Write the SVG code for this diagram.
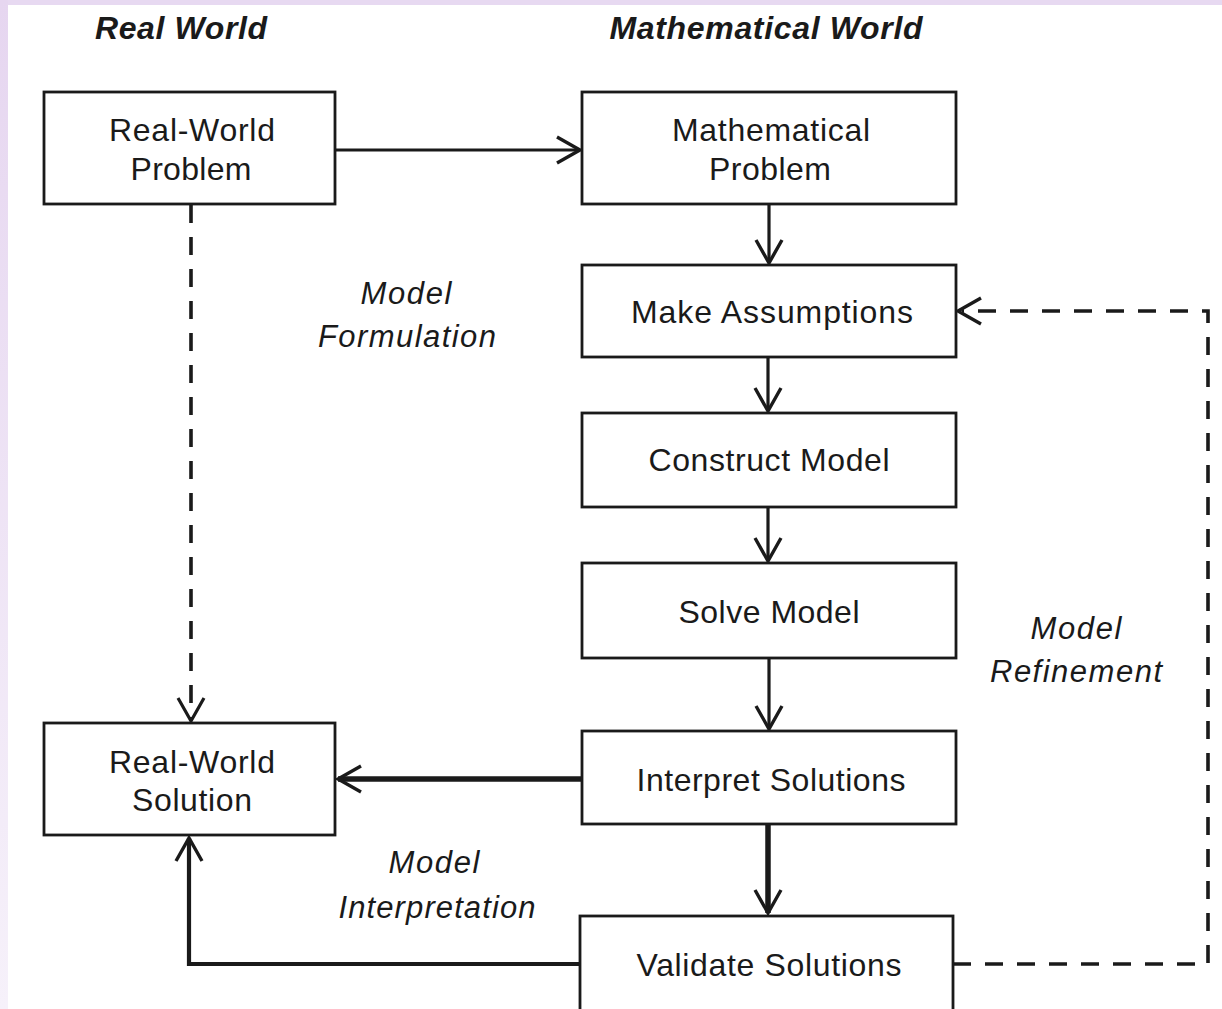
<svg xmlns="http://www.w3.org/2000/svg" width="1222" height="1009" viewBox="0 0 1222 1009">
  <defs>
    <linearGradient id="side" x1="0" y1="0" x2="0" y2="1">
      <stop offset="0" stop-color="#e6d6f0"/>
      <stop offset="1" stop-color="#f6f1fa"/>
    </linearGradient>
    <marker id="arr" markerUnits="userSpaceOnUse" viewBox="-26 -15 30 30" markerWidth="30" markerHeight="30" refX="0" refY="0" orient="auto">
      <path d="M-23,-13 L0,0 L-23,13" fill="none" stroke="#1a1a1a" stroke-width="3.4"/>
    </marker>
    <style>
      .box { fill: #ffffff; stroke: #1a1a1a; stroke-width: 2.8; }
      .t { font-family: "Liberation Sans", Arial, sans-serif; font-size: 32px; fill: #1a1a1a; text-anchor: middle; }
      .it { font-family: "Liberation Sans", Arial, sans-serif; font-size: 31px; font-style: italic; fill: #1a1a1a; text-anchor: middle; }
      .hd { font-family: "Liberation Sans", Arial, sans-serif; font-size: 32px; font-style: italic; font-weight: bold; fill: #1a1a1a; text-anchor: middle; }
      .ln { fill: none; stroke: #1a1a1a; stroke-width: 3.2; }
      .thick { fill: none; stroke: #1a1a1a; stroke-width: 5.5; }
      .mid { fill: none; stroke: #1a1a1a; stroke-width: 4.2; }
      .dash { fill: none; stroke: #1a1a1a; stroke-width: 3.6; stroke-dasharray: 18 14; }
    </style>
  </defs>

  <rect x="0" y="0" width="1222" height="1009" fill="#ffffff"/>
  <rect x="0" y="0" width="1222" height="5" fill="#e7d9f1"/>
  <rect x="0" y="0" width="8" height="1009" fill="url(#side)"/>

  <g id="headers">
    <text class="hd" x="181" y="39" textLength="172" lengthAdjust="spacing">Real World</text>
    <text class="hd" x="766" y="39" textLength="313" lengthAdjust="spacing">Mathematical World</text>
  </g>

  <g id="connectors">
    <line class="ln" x1="335" y1="150" x2="580" y2="150" marker-end="url(#arr)"/>
    <line class="ln" x1="769" y1="204" x2="769" y2="263" marker-end="url(#arr)"/>
    <line class="ln" x1="768" y1="357" x2="768" y2="411" marker-end="url(#arr)"/>
    <line class="ln" x1="768" y1="507" x2="768" y2="561" marker-end="url(#arr)"/>
    <line class="ln" x1="769" y1="658" x2="769" y2="729" marker-end="url(#arr)"/>
    <line class="thick" x1="768" y1="824" x2="768" y2="913" marker-end="url(#arr)"/>
    <line class="thick" x1="582" y1="779" x2="338" y2="779" marker-end="url(#arr)"/>
    <path class="mid" d="M580,964 H189 V838" marker-end="url(#arr)"/>
    <path class="dash" d="M191,205 V719"/>
    <path d="M178,698 L191,721 L204,698" fill="none" stroke="#1a1a1a" stroke-width="3.2"/>
    <path class="dash" d="M953,964 H1208 V311 H962"/>
    <path d="M981,298 L958,311 L981,324" fill="none" stroke="#1a1a1a" stroke-width="3.4"/>
  </g>

  <g id="node-real-world-problem">
    <rect class="box" x="44" y="92" width="291" height="112"/>
    <text class="t" x="192" y="141" textLength="166" lengthAdjust="spacing">Real-World</text>
    <text class="t" x="191" y="180" textLength="121" lengthAdjust="spacing">Problem</text>
  </g>
  <g id="node-mathematical-problem">
    <rect class="box" x="582" y="92" width="374" height="112"/>
    <text class="t" x="771" y="141" textLength="198" lengthAdjust="spacing">Mathematical</text>
    <text class="t" x="770" y="180" textLength="122" lengthAdjust="spacing">Problem</text>
  </g>
  <g id="node-make-assumptions">
    <rect class="box" x="582" y="265" width="374" height="92"/>
    <text class="t" x="772" y="323" textLength="282" lengthAdjust="spacing">Make Assumptions</text>
  </g>
  <g id="node-construct-model">
    <rect class="box" x="582" y="413" width="374" height="94"/>
    <text class="t" x="769" y="471" textLength="241" lengthAdjust="spacing">Construct Model</text>
  </g>
  <g id="node-solve-model">
    <rect class="box" x="582" y="563" width="374" height="95"/>
    <text class="t" x="769" y="623" textLength="181" lengthAdjust="spacing">Solve Model</text>
  </g>
  <g id="node-interpret-solutions">
    <rect class="box" x="582" y="731" width="374" height="93"/>
    <text class="t" x="771" y="791" textLength="269" lengthAdjust="spacing">Interpret Solutions</text>
  </g>
  <g id="node-validate-solutions">
    <rect class="box" x="580" y="916" width="373" height="110"/>
    <text class="t" x="769" y="976" textLength="265" lengthAdjust="spacing">Validate Solutions</text>
  </g>
  <g id="node-real-world-solution">
    <rect class="box" x="44" y="723" width="291" height="112"/>
    <text class="t" x="192" y="773" textLength="166" lengthAdjust="spacing">Real-World</text>
    <text class="t" x="192" y="811" textLength="120" lengthAdjust="spacing">Solution</text>
  </g>

  <g id="labels">
    <text class="it" x="406" y="304" textLength="91" lengthAdjust="spacing">Model</text>
    <text class="it" x="407" y="347" textLength="178" lengthAdjust="spacing">Formulation</text>
    <text class="it" x="1076" y="639" textLength="91" lengthAdjust="spacing">Model</text>
    <text class="it" x="1076" y="682" textLength="172" lengthAdjust="spacing">Refinement</text>
    <text class="it" x="434" y="873" textLength="91" lengthAdjust="spacing">Model</text>
    <text class="it" x="437" y="918" textLength="197" lengthAdjust="spacing">Interpretation</text>
  </g>
</svg>
